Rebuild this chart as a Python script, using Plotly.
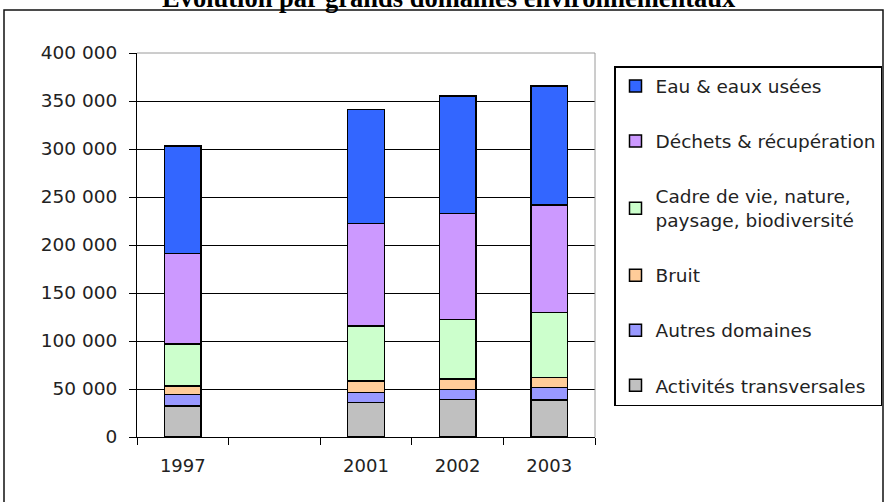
import plotly.graph_objects as go

# Budget by environmental domain (stacked, bottom to top)
years = ["1997", "2001", "2002", "2003"]
axis_slots = ["1997", " ", "2001", "2002", "2003"]

activites = [32300, 35800, 39200, 38500]
autres = [12100, 10400, 10100, 12900]
bruit = [8600, 12100, 11100, 10800]
cadre = [43900, 57300, 62200, 67300]
dechets = [94100, 107000, 110400, 112200]
eau = [112000, 118400, 122000, 123900]

series = [
    ("Activités transversales", activites, "#C0C0C0"),
    ("Autres domaines", autres, "#9999FF"),
    ("Bruit", bruit, "#FFCC99"),
    ("Cadre de vie, nature,<br>paysage, biodiversité", cadre, "#CCFFCC"),
    ("Déchets & récupération", dechets, "#CC99FF"),
    ("Eau & eaux usées", eau, "#3366FF"),
]

W, H = 885, 502
L, R, T, B = 137, 290, 53, 65
pw, ph = W - L - R, H - T - B


def px(x):
    return (x - L) / pw


def py(y):
    return (H - B - y) / ph


FONT = "DejaVu Sans"
TXT = "#222222"

fig = go.Figure()
n = len(series)
for i, (name, vals, color) in enumerate(series):
    fig.add_trace(go.Bar(
        x=years, y=vals, name=name,
        legendgroup=name, legendrank=n - i,
        marker=dict(color=color, line=dict(color="black", width=1.5)),
    ))

fig.update_layout(
    width=W, height=H, autosize=False,
    margin=dict(l=L, r=R, t=T, b=B, pad=0, autoexpand=False),
    paper_bgcolor="white", plot_bgcolor="white",
    barmode="stack", bargap=0.6,
    separators=", ",
    font=dict(family=FONT, size=18, color=TXT),
    showlegend=True,
    legend=dict(
        x=px(614), y=py(66), xanchor="left", yanchor="top",
        bgcolor="white", bordercolor="black", borderwidth=1.5,
        traceorder="grouped", tracegroupgap=28,
        font=dict(family=FONT, size=18.5, color=TXT),
    ),
    xaxis=dict(
        type="category", categoryorder="array", categoryarray=axis_slots,
        showline=True, linecolor="black", linewidth=1,
        ticks="outside", ticklen=7, tickcolor="black", tickson="boundaries",
        showgrid=False, tickfont=dict(family=FONT, size=18, color=TXT),
        ticklabelstandoff=12,
    ),
    yaxis=dict(
        range=[0, 400000], dtick=50000, tickformat=",d",
        showline=True, linecolor="black", linewidth=1,
        ticks="outside", ticklen=7, tickcolor="black",
        showgrid=True, gridcolor="black", gridwidth=1,
        zeroline=False,
        tickfont=dict(family=FONT, size=18.5, color=TXT),
        ticklabelstandoff=8,
    ),
    shapes=[
        # plot-area frame (top and right)
        dict(type="line", xref="paper", yref="paper", x0=0, x1=1, y0=1, y1=1,
             line=dict(color="#9a9a9a", width=1)),
        dict(type="line", xref="paper", yref="paper", x0=1, x1=1, y0=0, y1=1,
             line=dict(color="#9a9a9a", width=1)),
        # outer chart border
        dict(type="rect", xref="paper", yref="paper",
             x0=px(4), x1=px(883), y0=py(512), y1=py(10),
             line=dict(color="#111111", width=1.5), fillcolor="rgba(0,0,0,0)"),
    ],
    annotations=[
        dict(text="<b>Évolution par grands domaines environnementaux</b>",
             xref="paper", yref="paper", x=px(449), y=py(15),
             xanchor="center", yanchor="bottom", showarrow=False,
             font=dict(family="Liberation Serif", size=26.5, color="black")),
    ],
)

fig.write_html("out.html")
